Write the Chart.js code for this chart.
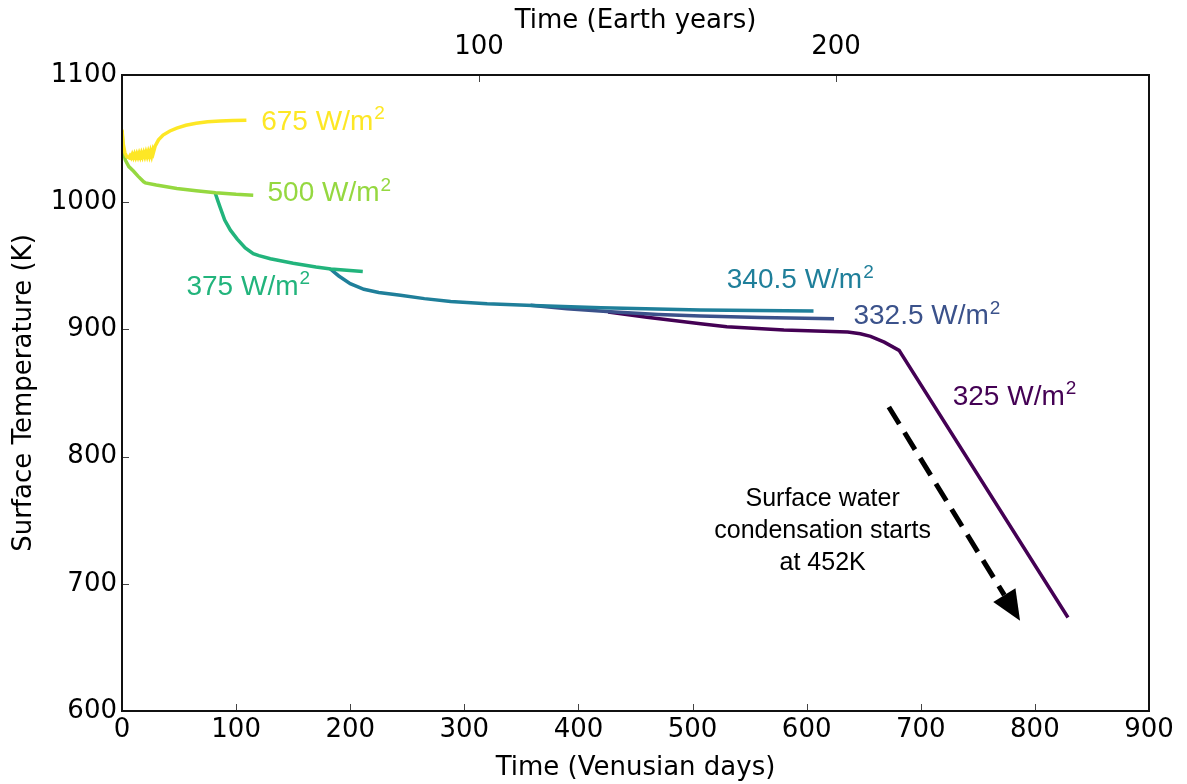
<!DOCTYPE html>
<html>
<head>
<meta charset="utf-8">
<script src="https://cdn.jsdelivr.net/npm/chart.js@4.4.0/dist/chart.umd.min.js"></script>
<style>
  html, body { margin: 0; padding: 0; background: #fff; }
</style>
</head>
<body>
<canvas id="chart" width="1187" height="784"></canvas>
<script>
// Surface temperature runs, one pair of arrays per solar flux
const days675 = [0, 1, 2.5, 4, 6, 7, 8, 9, 10, 11, 12, 13, 14, 15, 16, 17, 18, 19, 20, 21, 22, 23, 24, 25, 26, 27, 27.5, 29, 32, 36, 42, 48, 56, 65, 75, 86, 97, 109];
const temp675 = [1057, 1046, 1039, 1036, 1035, 1036.5, 1035, 1037.5, 1035.2, 1037.8, 1035.3, 1038, 1035.5, 1038.3, 1035.6, 1038.6, 1035.8, 1038.8, 1036, 1039.2, 1036.2, 1039.5, 1036.4, 1040, 1036.6, 1040.5, 1039, 1044, 1049, 1052.8, 1056, 1058.3, 1060.5, 1062, 1063.2, 1063.8, 1064.2, 1064.4];

const days500 = [0, 1, 3, 6, 10, 14, 19, 20.5, 30, 48, 65, 82, 100, 115];
const temp500 = [1056, 1040, 1033, 1028, 1024.5, 1020.5, 1016, 1015.2, 1013.5, 1010.8, 1009, 1007.4, 1006.2, 1005.5];

const days375 = [81.6, 84, 86, 90, 95, 101, 108, 115, 120, 130, 150, 170, 183, 211];
const temp375 = [1007.4, 1001, 996, 986, 978, 971, 964, 959.5, 958, 955.5, 952, 949, 947.5, 945.5];

const days340 = [182.5, 190, 200, 212, 225, 244, 265, 288, 320, 360, 420, 507, 606];
const temp340 = [947.5, 942, 936, 931.5, 929, 926.8, 924.2, 922, 920.2, 918.8, 917, 915.3, 914.4];

const days332 = [358, 390, 428, 470, 507, 560, 624];
const temp332 = [918.9, 916.3, 913.8, 911.8, 910.5, 909.3, 908.4];

const days325 = [426, 460, 507, 530, 580, 636, 647, 656, 668, 681, 829];
const temp325 = [913.6, 909.5, 904.5, 902, 899.5, 897.9, 896.6, 894.5, 890, 883.5, 673.5];

const fluxLabels = ['675', '500', '375', '340.5', '332.5', '325'];
const fluxColors = ['#fde725', '#95d840', '#22b47c', '#1f7f9a', '#3b528b', '#440154'];

// tick values
const dayTicks = [0, 100, 200, 300, 400, 500, 600, 700, 800, 900];
const tempTicks = [600, 700, 800, 900, 1000, 1100];
const earthYearTicks = [100, 200];
const venusDayInEarthDays = 116.75;

// where each flux label sits (days, K)
const labelDays = [122, 127.5, 56.5, 530, 641, 728];
const labelTemps = [1063.2, 1007, 933.3, 938.6, 910.2, 846.7];

const noteLines = ['Surface water', 'condensation starts', 'at 452K'];
const noteAt = { x: 614, y: 766.7 };
const arrowFrom = { x: 672, y: 839 };
const arrowTo = { x: 787, y: 671 };

const toPoints = (xs, ys) => xs.map((x, i) => ({ x: x, y: ys[i] }));
const series = [
  toPoints(days675, temp675),
  toPoints(days500, temp500),
  toPoints(days375, temp375),
  toPoints(days340, temp340),
  toPoints(days332, temp332),
  toPoints(days325, temp325)
];

const tickFont = { family: 'DejaVu Sans', size: 26 };

// frame, inward ticks, labels and the arrow note
const decorations = {
  id: 'decorations',
  afterDatasetsDraw(chart) {
    const ctx = chart.ctx;
    const a = chart.chartArea;
    const xs = chart.scales.x, ys = chart.scales.y, xt = chart.scales.xTop;
    ctx.save();

    // inward ticks
    ctx.strokeStyle = '#444';
    ctx.lineWidth = 1;
    ctx.beginPath();
    dayTicks.forEach(v => {
      const px = Math.round(xs.getPixelForValue(v)) + 0.5;
      ctx.moveTo(px, a.bottom); ctx.lineTo(px, a.bottom - 7);
    });
    tempTicks.forEach(v => {
      const py = Math.round(ys.getPixelForValue(v)) + 0.5;
      ctx.moveTo(a.left, py); ctx.lineTo(a.left + 7, py);
    });
    earthYearTicks.forEach(v => {
      const px = Math.round(xt.getPixelForValue(v)) + 0.5;
      ctx.moveTo(px, a.top); ctx.lineTo(px, a.top + 7);
    });
    ctx.stroke();

    // frame
    ctx.strokeStyle = '#111';
    ctx.lineWidth = 2;
    ctx.strokeRect(a.left, a.top, a.right - a.left, a.bottom - a.top);

    // flux labels with superscript
    ctx.textBaseline = 'middle';
    ctx.textAlign = 'left';
    fluxLabels.forEach((f, i) => {
      const px = xs.getPixelForValue(labelDays[i]);
      const py = ys.getPixelForValue(labelTemps[i]);
      const main = f + ' W/m';
      ctx.fillStyle = fluxColors[i];
      ctx.font = '28px "Liberation Sans", Arial, sans-serif';
      ctx.fillText(main, px, py);
      const w = ctx.measureText(main).width;
      ctx.font = '19px "Liberation Sans", Arial, sans-serif';
      ctx.fillText('2', px + w + 1, py - 8);
    });

    // note text
    ctx.fillStyle = '#000';
    ctx.textAlign = 'center';
    ctx.font = '25px "Liberation Sans", Arial, sans-serif';
    const nx = xs.getPixelForValue(noteAt.x);
    const ny = ys.getPixelForValue(noteAt.y);
    noteLines.forEach((t, i) => ctx.fillText(t, nx, ny + i * 32));

    // dashed arrow
    const sx = xs.getPixelForValue(arrowFrom.x), sy = ys.getPixelForValue(arrowFrom.y);
    const tx = xs.getPixelForValue(arrowTo.x), ty = ys.getPixelForValue(arrowTo.y);
    const len = Math.hypot(tx - sx, ty - sy);
    const ux = (tx - sx) / len, uy = (ty - sy) / len;
    const headLen = 30, headHalf = 13;
    const bx = tx - ux * headLen, by = ty - uy * headLen;
    ctx.strokeStyle = '#000';
    ctx.lineWidth = 5;
    ctx.setLineDash([20, 10]);
    ctx.beginPath();
    ctx.moveTo(sx, sy); ctx.lineTo(bx, by);
    ctx.stroke();
    ctx.setLineDash([]);
    ctx.fillStyle = '#000';
    ctx.beginPath();
    ctx.moveTo(tx, ty);
    ctx.lineTo(bx - uy * headHalf, by + ux * headHalf);
    ctx.lineTo(bx + uy * headHalf, by - ux * headHalf);
    ctx.closePath();
    ctx.fill();

    ctx.restore();
  }
};

new Chart(document.getElementById('chart'), {
  type: 'scatter',
  data: {
    datasets: series.map((pts, i) => ({
      label: fluxLabels[i] + ' W/m2',
      data: pts,
      showLine: true,
      borderColor: fluxColors[i],
      backgroundColor: fluxColors[i],
      borderWidth: 3.5,
      pointRadius: 0,
      tension: 0
    }))
  },
  options: {
    responsive: false,
    animation: false,
    layout: { padding: { left: 0, right: 38, top: 0, bottom: 0 } },
    plugins: { legend: { display: false }, tooltip: { enabled: false } },
    scales: {
      x: {
        type: 'linear',
        position: 'bottom',
        min: 0,
        max: 900,
        afterBuildTicks: s => { s.ticks = dayTicks.map(v => ({ value: v })); },
        afterFit: s => { s.height = 73; },
        grid: { display: false, drawTicks: false },
        border: { display: false },
        ticks: { color: '#000', font: tickFont, padding: 4, maxRotation: 0, callback: v => String(v) },
        title: { display: true, text: 'Time (Venusian days)', color: '#000', font: tickFont, padding: { top: 0, bottom: 0 } }
      },
      xTop: {
        type: 'linear',
        position: 'top',
        min: 0,
        max: 900 * venusDayInEarthDays / 365.25,
        afterBuildTicks: s => { s.ticks = earthYearTicks.map(v => ({ value: v })); },
        afterFit: s => { s.height = 75; },
        grid: { display: false, drawTicks: false },
        border: { display: false },
        ticks: { color: '#000', font: tickFont, padding: 12, maxRotation: 0, callback: v => String(v) },
        title: { display: true, text: 'Time (Earth years)', color: '#000', font: tickFont, padding: { top: 6, bottom: 0 } }
      },
      y: {
        type: 'linear',
        min: 600,
        max: 1100,
        afterBuildTicks: s => { s.ticks = tempTicks.map(v => ({ value: v })); },
        afterFit: s => { s.width = 122; },
        grid: { display: false, drawTicks: false },
        border: { display: false },
        ticks: { color: '#000', font: tickFont, padding: 5, callback: v => String(v) },
        title: { display: true, text: 'Surface Temperature (K)', color: '#000', font: tickFont, padding: { top: 9, bottom: 0 } }
      }
    }
  },
  plugins: [decorations]
});
</script>
</body>
</html>
